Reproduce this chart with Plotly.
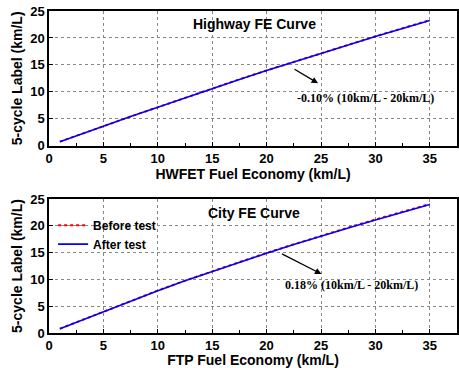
import plotly.graph_objects as go

fe = [1, 2.5, 5, 7.5, 10, 12.5, 15, 17.5, 20, 22.5, 25, 27.5, 30, 32.5, 35]
hwy_before = [0.75, 1.86, 3.61, 5.41, 7.16, 8.91, 10.61, 12.32, 13.97, 15.58, 17.19, 18.74, 20.30, 21.80, 23.31]
hwy_after = [0.75, 1.85, 3.60, 5.40, 7.15, 8.90, 10.60, 12.30, 13.95, 15.55, 17.15, 18.70, 20.25, 21.75, 23.25]
city_before = [0.80, 2.00, 4.00, 5.96, 7.92, 9.77, 11.54, 13.24, 14.95, 16.55, 18.17, 19.68, 21.18, 22.64, 24.08]
city_after = [0.80, 2.00, 4.00, 5.95, 7.90, 9.75, 11.50, 13.20, 14.90, 16.50, 18.10, 19.60, 21.10, 22.55, 24.00]

SANS = "Liberation Sans, Arial, sans-serif"
SERIF = "Liberation Serif, Times New Roman, serif"

fig = go.Figure()
fig.add_trace(go.Scatter(x=fe, y=hwy_before, mode="lines", line=dict(color="red", width=2, dash="dot"),
                         name="Before test", showlegend=False, xaxis="x", yaxis="y"))
fig.add_trace(go.Scatter(x=fe, y=hwy_after, mode="lines", line=dict(color="blue", width=1.6),
                         name="After test", showlegend=False, xaxis="x", yaxis="y"))
fig.add_trace(go.Scatter(x=fe, y=city_before, mode="lines", line=dict(color="red", width=2, dash="dot"),
                         name="Before test", xaxis="x2", yaxis="y2"))
fig.add_trace(go.Scatter(x=fe, y=city_after, mode="lines", line=dict(color="blue", width=1.6),
                         name="After test", xaxis="x2", yaxis="y2"))

def xax(anchor, title):
    return dict(anchor=anchor, domain=[0, 1], range=[0, 37.5], dtick=5, tick0=0,
                showline=True, linecolor="black", linewidth=1.5, mirror=True,
                ticks="inside", ticklen=4, tickcolor="black",
                minor=dict(dtick=2.5, ticks="inside", ticklen=3, tickcolor="black", showgrid=False),
                showgrid=True, gridcolor="#888888", griddash="dot", gridwidth=1, zeroline=False,
                tickfont=dict(family=SANS, size=13, color="black", weight="bold"),
                title=dict(text=title, font=dict(family=SANS, size=14, color="black", weight="bold"), standoff=3))

def yax(anchor, dom, title):
    return dict(anchor=anchor, domain=dom, range=[0, 25], dtick=5,
                showline=True, linecolor="black", linewidth=1.5, mirror=True,
                ticks="inside", ticklen=4, tickcolor="black",
                showgrid=True, gridcolor="#888888", griddash="dot", gridwidth=1, zeroline=False,
                tickfont=dict(family=SANS, size=13, color="black", weight="bold"),
                title=dict(text=title, font=dict(family=SANS, size=14, color="black", weight="bold"), standoff=4))

fig.update_layout(
    width=459, height=368,
    margin=dict(l=49, r=0, t=11, b=35),
    plot_bgcolor="white", paper_bgcolor="white",
    xaxis=xax("y", "HWFET Fuel Economy (km/L)"),
    yaxis=yax("x", [0.5817, 1.0], "5-cycle Label (km/L)"),
    xaxis2=xax("y2", "FTP Fuel Economy (km/L)"),
    yaxis2=yax("x2", [0, 0.416], "5-cycle Label (km/L)"),
    legend=dict(x=0.01, y=0.38, xanchor="left", yanchor="top", bgcolor="rgba(0,0,0,0)",
                font=dict(family=SANS, size=12, color="black", weight="bold"),
                tracegroupgap=0, itemwidth=30),
    showlegend=True,
)

ann = [
    dict(x=18.85, y=22.6, xref="x", yref="y", text="Highway FE Curve", showarrow=False,
         font=dict(family=SANS, size=14, color="black", weight="bold")),
    dict(x=18.85, y=22.4, xref="x2", yref="y2", text="City FE Curve", showarrow=False,
         font=dict(family=SANS, size=14, color="black", weight="bold")),
    dict(x=29.07, y=8.9, xref="x", yref="y", text="-0.10% (10km/L - 20km/L)", showarrow=False,
         font=dict(family=SERIF, size=12, color="black", weight="bold")),
    dict(x=27.8, y=8.96, xref="x2", yref="y2", text="0.18% (10km/L - 20km/L)", showarrow=False,
         font=dict(family=SERIF, size=12, color="black", weight="bold")),
    dict(x=24.73, y=11.58, xref="x", yref="y", ax=-25, ay=-15, text="", showarrow=True,
         arrowhead=2, arrowsize=1, arrowwidth=1.3, arrowcolor="black"),
    dict(x=25.04, y=11.0, xref="x2", yref="y2", ax=-41, ay=-21, text="", showarrow=True,
         arrowhead=2, arrowsize=1, arrowwidth=1.3, arrowcolor="black"),
]
fig.update_layout(annotations=ann)

fig.write_html("out.html")
